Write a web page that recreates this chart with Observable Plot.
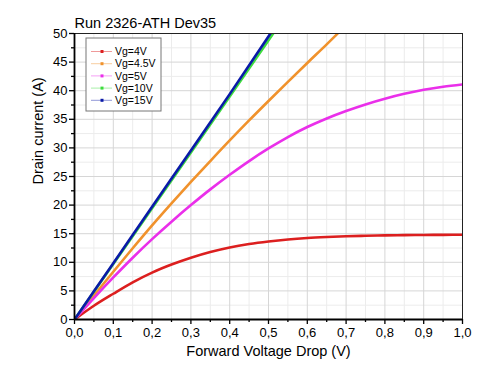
<!DOCTYPE html>
<html>
<head>
<meta charset="utf-8">
<script src="https://cdn.jsdelivr.net/npm/d3@7"></script>
<script src="https://cdn.jsdelivr.net/npm/@observablehq/plot@0.6"></script>
<style>
  html, body { margin: 0; padding: 0; background: #fff; }
  #chart svg { display: block; }
</style>
</head>
<body>
<div id="chart"></div>
<script>
const titleText = "Run 2326-ATH Dev35";
const xLabel = "Forward Voltage Drop (V)";
const yLabel = "Drain current (A)";

const seriesNames = ["Vg=4V", "Vg=4.5V", "Vg=5V", "Vg=10V", "Vg=15V"];
const seriesColors = ["#dc1f1f", "#f0922c", "#ea2fea", "#3ddc3d", "#0a1aa8"];

const v4x = [0, 0.05, 0.1, 0.15, 0.2, 0.25, 0.3, 0.35, 0.4, 0.45, 0.5, 0.55, 0.6, 0.65, 0.7, 0.75, 0.8, 0.85, 0.9, 0.95, 1.0];
const v4y = [0, 2.4, 4.5, 6.5, 8.2, 9.6, 10.8, 11.8, 12.6, 13.2, 13.65, 14.0, 14.25, 14.42, 14.55, 14.64, 14.7, 14.75, 14.78, 14.8, 14.82];

const v45x = [0, 0.05, 0.1, 0.15, 0.2, 0.25, 0.3, 0.35, 0.4, 0.45, 0.5, 0.55, 0.6, 0.65, 0.68];
const v45y = [0, 4.2, 8.35, 12.45, 16.45, 20.3, 24.05, 27.7, 31.3, 34.8, 38.2, 41.55, 44.85, 48.1, 50.1];

const v5x = [0, 0.05, 0.1, 0.15, 0.2, 0.25, 0.3, 0.35, 0.4, 0.45, 0.5, 0.55, 0.6, 0.65, 0.7, 0.75, 0.8, 0.85, 0.9, 0.95, 1.0];
const v5y = [0, 3.75, 7.35, 10.8, 14.05, 17.1, 20.0, 22.75, 25.3, 27.7, 29.9, 31.9, 33.65, 35.15, 36.45, 37.6, 38.6, 39.45, 40.15, 40.7, 41.1];

const v10x = [0, 0.1, 0.2, 0.3, 0.4, 0.512];
const v10y = [0, 9.7, 19.45, 29.2, 39.0, 50];

const v15x = [0, 0.1, 0.2, 0.3, 0.4, 0.505];
const v15y = [0, 9.85, 19.7, 29.55, 39.4, 50];

const xMajor = [0, 0.1, 0.2, 0.3, 0.4, 0.5, 0.6, 0.7, 0.8, 0.9, 1.0];
const xMinor = [0.05, 0.15, 0.25, 0.35, 0.45, 0.55, 0.65, 0.75, 0.85, 0.95];
const yMajor = [0, 5, 10, 15, 20, 25, 30, 35, 40, 45, 50];
const yMinor = [2.5, 7.5, 12.5, 17.5, 22.5, 27.5, 32.5, 37.5, 42.5, 47.5];

const seriesX = [v4x, v45x, v5x, v10x, v15x];
const seriesY = [v4y, v45y, v5y, v10y, v15y];

const rows = [];
seriesNames.forEach((name, i) => {
  seriesX[i].forEach((x, j) => rows.push({series: name, x, y: seriesY[i][j]}));
});

const font = "'Liberation Sans', Arial, sans-serif";
const fmt = d => d.toFixed(1).replace(".", ",");

const lineMarks = seriesNames.map((name, i) =>
  Plot.line(rows.filter(r => r.series === name), {
    x: "x", y: "y", stroke: seriesColors[i], strokeWidth: 2.6, curve: "monotone-x", clip: true
  })
);

const chart = Plot.plot({
  width: 500,
  height: 380,
  marginLeft: 74,
  marginRight: 38,
  marginTop: 33,
  marginBottom: 61,
  style: {fontFamily: font, background: "#fff", color: "#000"},
  x: {domain: [0, 1]},
  y: {domain: [0, 50]},
  marks: [
    Plot.ruleX(xMinor, {stroke: "#ececec", strokeWidth: 1}),
    Plot.ruleY(yMinor, {stroke: "#ececec", strokeWidth: 1}),
    Plot.ruleX(xMajor, {stroke: "#d6d6d6", strokeWidth: 1}),
    Plot.ruleY(yMajor, {stroke: "#d6d6d6", strokeWidth: 1}),
    ...lineMarks,
    Plot.frame({stroke: "#222", strokeWidth: 1}),
    Plot.ruleX([0], {stroke: "#000", strokeWidth: 1.8}),
    Plot.ruleY([0], {stroke: "#000", strokeWidth: 1.8}),
    Plot.axisX(xMajor, {tickSize: 5, tickPadding: 3, tickFormat: fmt, fontSize: 13, label: null, stroke: "#000", strokeWidth: 1.3}),
    Plot.axisX(xMinor, {tickSize: 3, tickFormat: () => "", label: null, stroke: "#000", strokeWidth: 1.3}),
    Plot.axisY(yMajor, {tickSize: 5, tickPadding: 2, tickFormat: d => String(d), fontSize: 13, label: null, stroke: "#000", strokeWidth: 1.3}),
    Plot.axisY(yMinor, {tickSize: 3, tickFormat: () => "", label: null, stroke: "#000", strokeWidth: 1.3}),
    Plot.text([titleText], {frameAnchor: "top-left", dy: -6, lineAnchor: "bottom", textAnchor: "start", fontSize: 14.5, fill: "#000"}),
    Plot.text([xLabel], {frameAnchor: "bottom", dy: 36, fontSize: 14.5, fill: "#000"}),
    Plot.text([yLabel], {frameAnchor: "left", dx: -36, dy: 8, rotate: -90, fontSize: 14.5, fill: "#000"})
  ]
});

document.getElementById("chart").appendChild(chart);

// Legend inside the plot area
const svg = d3.select(chart);
const lg = svg.append("g").attr("font-family", font).attr("text-anchor", "start");
lg.append("rect").attr("x", 86).attr("y", 38).attr("width", 75).attr("height", 73)
  .attr("fill", "#fff").attr("stroke", "#777").attr("stroke-width", 1);
seriesNames.forEach((name, i) => {
  const cy = 51.5 + i * 12.2;
  lg.append("line").attr("x1", 91).attr("x2", 112).attr("y1", cy).attr("y2", cy)
    .attr("stroke", seriesColors[i]).attr("stroke-opacity", 0.45).attr("stroke-width", 1);
  lg.append("rect").attr("x", 100.5).attr("y", cy - 1.5).attr("width", 3).attr("height", 3)
    .attr("fill", seriesColors[i]);
  lg.append("text").attr("x", 115).attr("y", cy).attr("dy", "0.35em")
    .attr("text-anchor", "start").attr("font-size", 10.5).attr("fill", "#000").text(name);
});
</script>
</body>
</html>
